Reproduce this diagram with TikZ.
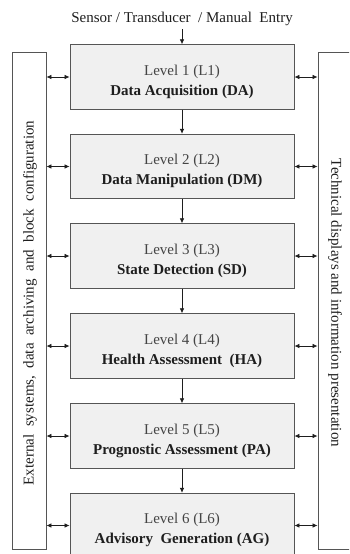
\documentclass[tikz,border=0pt]{standalone}
\usepackage{fontspec}
\setmainfont{Liberation Serif}
\usetikzlibrary{arrows.meta}
\definecolor{boxfill}{HTML}{F0F0F0}
\definecolor{edge}{HTML}{555555}
\definecolor{lvl}{HTML}{444444}
\definecolor{ink}{HTML}{1E1E1E}
\newcommand{\lvstrut}{\rule{0pt}{20pt}}
\begin{document}
\begin{tikzpicture}[x=1pt,y=-1pt,
  levelbox/.style={draw=edge, fill=boxfill, line width=0.9pt, minimum width=224pt, minimum height=64.5pt,
    align=center, inner sep=0pt, font=\fontsize{15}{20}\selectfont, text=ink},
  panel/.style={draw=edge, line width=0.9pt, inner sep=0pt},
  flow/.style={draw=ink, line width=0.7pt, -{Latex[length=5pt,width=4.5pt]}},
  link/.style={draw=ink, line width=0.7pt, {Latex[length=5pt,width=4.5pt]}-{Latex[length=5pt,width=4.5pt]}},
  vtext/.style={font=\fontsize{15}{18}\selectfont, text=ink, inner sep=0pt}
]
\useasboundingbox (0,0) rectangle (349,554);
\clip (0,0) rectangle (349,554);
\fill[white] (0,0) rectangle (349,554);

\node[vtext] (src) at (182,19) {Sensor / Transducer \ / Manual \ Entry};

\node[levelbox] (l1) at (182,77)    {\lvstrut\textcolor{lvl}{Level 1 (L1)}\\\textbf{Data Acquisition (DA)}};
\node[levelbox] (l2) at (182,166.5) {\lvstrut\textcolor{lvl}{Level 2 (L2)}\\\textbf{Data Manipulation (DM)}};
\node[levelbox] (l3) at (182,256)   {\lvstrut\textcolor{lvl}{Level 3 (L3)}\\\textbf{State Detection (SD)}};
\node[levelbox] (l4) at (182,346)   {\lvstrut\textcolor{lvl}{Level 4 (L4)}\\\textbf{Health Assessment \ (HA)}};
\node[levelbox] (l5) at (182,436)   {\lvstrut\textcolor{lvl}{Level 5 (L5)}\\\textbf{Prognostic Assessment (PA)}};
\node[levelbox] (l6) at (182,525.5) {\lvstrut\textcolor{lvl}{Level 6 (L6)}\\\textbf{Advisory \ Generation (AG)}};

\node[panel, minimum width=34pt, minimum height=497pt] (lp) at (29,300.5) {};
\node[panel, minimum width=44pt, minimum height=497pt] (rp) at (340,300.5) {};

\node[vtext, rotate=90] (lt) at (30,303) {External \ systems, \ data \ archiving \ and \ block \ configuration};
\node[vtext, rotate=-90] (rt) at (335,303) {Technical displays and information presentation};

\draw[flow] (src.south) ++(0,3) -- (l1.north);
\draw[flow] (l1) -- (l2);
\draw[flow] (l2) -- (l3);
\draw[flow] (l3) -- (l4);
\draw[flow] (l4) -- (l5);
\draw[flow] (l5) -- (l6);

\foreach \n in {l1,l2,l3,l4,l5,l6}{
  \draw[link] (\n.west -| lp.east) -- (\n.west);
  \draw[link] (\n.east) -- (\n.east -| rp.west);
}
\end{tikzpicture}
\end{document}
